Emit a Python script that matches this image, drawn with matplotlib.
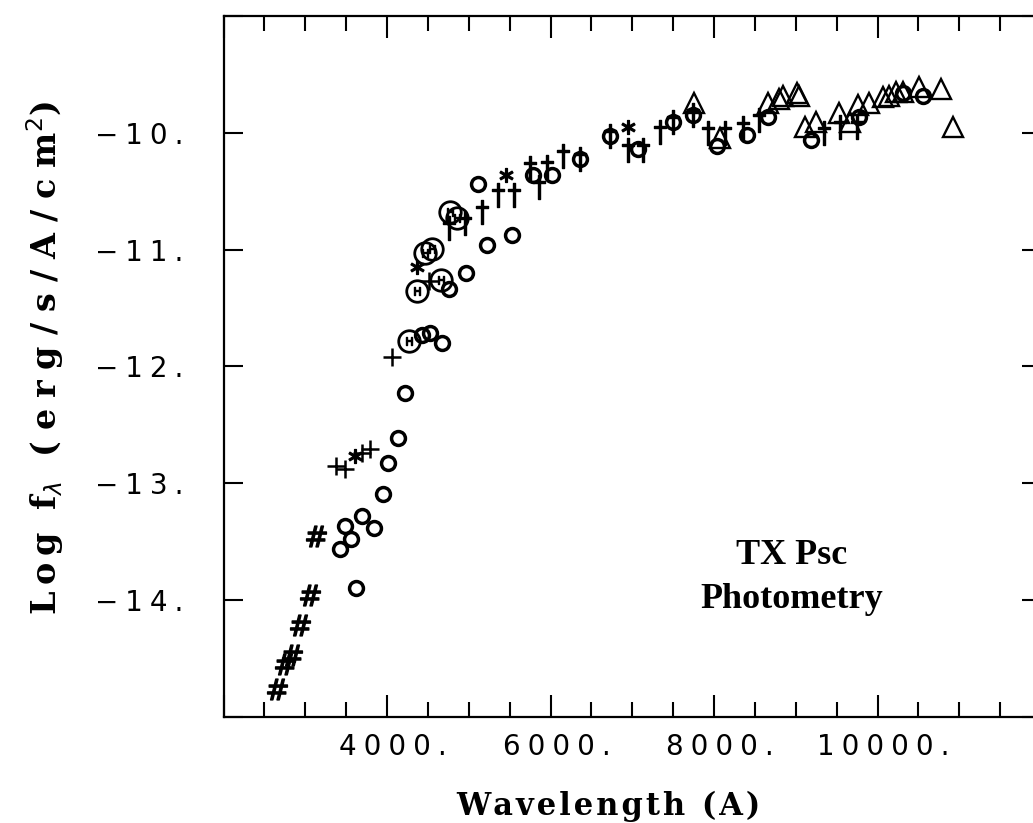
import matplotlib
matplotlib.use('Agg')
import matplotlib.pyplot as plt
import matplotlib.transforms as mtransforms
from matplotlib.ticker import FixedLocator, FixedFormatter, MultipleLocator

# photometry: wavelength (A) and log f_lambda
hash_wl = [3131, 3057, 2935, 2837, 2751, 2653]
hash_lf = [-13.45, -13.96, -14.21, -14.47, -14.55, -14.76]

plus_wl = [3375, 3486, 3694, 3792, 4061, 4514]
plus_lf = [-12.85, -12.88, -12.74, -12.71, -11.92, -11.27]

star_wl = [3608, 4367, 5457, 6951]
star_lf = [-12.77, -11.15, -10.36, -9.95]

circ_wl = [4220, 4135, 4012, 3951, 3486, 3694, 3841, 3559, 3424, 3620,
           4429, 4527, 4673, 4759, 4967, 5224, 5531, 5114, 5788, 6020,
           6363, 6731, 7074, 7502, 7747, 8041, 8408, 8665, 9180, 9767,
           10311, 10551]
circ_lf = [-12.23, -12.61, -12.83, -13.09, -13.37, -13.28, -13.38, -13.48, -13.56, -13.90,
           -11.73, -11.71, -11.80, -11.34, -11.20, -10.96, -10.87, -10.44, -10.36, -10.36,
           -10.22, -10.03, -10.14, -9.91, -9.85, -10.11, -10.02, -9.86, -10.06, -9.86,
           -9.66, -9.68]

ring_wl = [4269, 4367, 4661, 4465, 4551, 4771, 4857]
ring_lf = [-11.78, -11.35, -11.26, -11.03, -10.99, -10.68, -10.73]

dag_wl = [4759, 4955, 5163, 5359, 5555, 5751, 5861, 5959, 6155, 6363,
          6731, 6951, 7135, 7343, 7502, 7747, 7931, 8139, 8359, 8555,
          9351, 9535, 9743]
dag_lf = [-10.81, -10.77, -10.68, -10.53, -10.53, -10.30, -10.46, -10.29, -10.20, -10.22,
          -10.03, -10.15, -10.15, -9.99, -9.91, -9.85, -10.00, -10.00, -9.96, -9.89,
          -10.00, -9.95, -9.95]

tri_wl = [7760, 8078, 8665, 8800, 8849, 9020, 9045, 9118, 9241, 9523,
          9657, 9755, 9890, 10061, 10135, 10221, 10306, 10502, 10771, 10918]
tri_lf = [-9.74, -10.04, -9.74, -9.71, -9.68, -9.66, -9.68, -9.95, -9.91, -9.83,
          -9.91, -9.76, -9.74, -9.69, -9.68, -9.65, -9.65, -9.61, -9.62, -9.95]

xticks = [2000, 4000, 6000, 8000, 10000, 12000]
xlabels = ['', '4000.', '6000.', '8000.', '10000.', '']
yticks = [-15, -14, -13, -12, -11, -10, -9]
ylabels = ['', '\u221214.', '\u221213.', '\u221212.', '\u221211.', '\u221210.', '']


def spaced(s, gap='\u2005'):
    # the old plotter fonts are very wide, pad letters with narrow spaces
    return gap.join(s)


fig = plt.figure(figsize=(10.33, 8.23), dpi=100)
ax = fig.add_axes([0.2164, 0.1291, 0.7914, 0.8512])

k = 'black'
ax.plot(hash_wl, hash_lf, ls='none', marker='$\\#$', ms=15, color=k)
ax.plot(plus_wl, plus_lf, ls='none', marker='+', ms=13, mew=1.8, color=k)
ax.plot(star_wl, star_lf, ls='none', marker='$\\ast$', ms=10, color=k)
ax.plot(circ_wl, circ_lf, ls='none', marker='o', ms=10, mfc='none', mew=2.5, mec=k)
ax.plot(ring_wl, ring_lf, ls='none', marker='o', ms=15.5, mfc='none', mew=2.0, mec=k)
ax.plot(ring_wl, ring_lf, ls='none', marker='$\\mathrm{H}$', ms=6, color=k)
ax.plot(dag_wl, dag_lf, ls='none', marker='$\\dagger$', ms=17, color=k)
ax.plot(tri_wl, tri_lf, ls='none', marker='^', ms=15, mfc='none', mew=1.7, mec=k)

ax.set_xlim(2000, 12000)
ax.set_ylim(-15, -9)

ax.xaxis.set_major_locator(FixedLocator(xticks))
ax.xaxis.set_major_formatter(FixedFormatter([spaced(s) for s in xlabels]))
ax.xaxis.set_minor_locator(MultipleLocator(500))
ax.yaxis.set_major_locator(FixedLocator(yticks))
ax.yaxis.set_major_formatter(FixedFormatter([spaced(s) for s in ylabels]))

ax.tick_params(axis='both', which='both', direction='in', top=True, right=True,
               width=1.5, colors=k)
ax.tick_params(axis='x', which='major', length=16, pad=12, labelsize=20)
ax.tick_params(axis='x', which='minor', length=11)
ax.tick_params(axis='y', which='major', length=14, pad=29, labelsize=20)
for sp in ax.spines.values():
    sp.set_linewidth(1.6)

# x tick labels sit a little right of their ticks in the original
shift = mtransforms.ScaledTranslation(6 / 100, 0, fig.dpi_scale_trans)
for lab in ax.get_xticklabels():
    lab.set_transform(lab.get_transform() + shift)

fig.text(608 / 1033, 1 - 806 / 823, spaced('Wavelength (A)', '\u200a'),
         family='DejaVu Serif', weight='bold', fontsize=22, ha='center', va='center')
ylab = (spaced('Log', '\u2009') + '  f$_{\\lambda}$  '
        + spaced('(erg/s/A/cm', '\u2004') + '$^{2}$)')
fig.text(45 / 1033, 1 - 358 / 823, ylab, family='DejaVu Serif', weight='bold',
         fontsize=24, rotation=90, ha='center', va='center')
ax.text(8954, -13.81, 'TX Psc\nPhotometry', family='Liberation Serif', weight='bold',
        fontsize=26, ha='center', va='center', linespacing=1.45)

fig.savefig('out.png', dpi=100)
